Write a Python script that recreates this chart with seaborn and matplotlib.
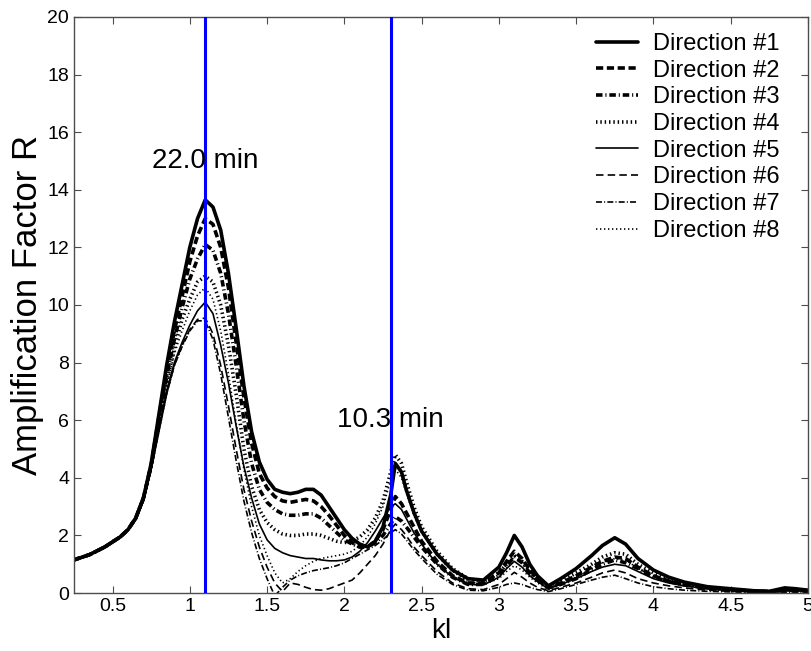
import pandas as pd
import matplotlib
matplotlib.use("Agg")
import matplotlib.pyplot as plt
import seaborn as sns

# --- Data ---
kl = [0.25, 0.35, 0.45, 0.55, 0.6, 0.65, 0.7, 0.75, 0.8, 0.85, 0.9, 0.95,
      1.0, 1.05, 1.1, 1.15, 1.2, 1.25, 1.3, 1.35, 1.4, 1.45,
      1.5, 1.55, 1.6, 1.65, 1.7, 1.75, 1.8, 1.85, 1.9, 1.95,
      2.0, 2.05, 2.1, 2.15, 2.2, 2.25, 2.3,
      2.33, 2.37, 2.4, 2.45, 2.5,
      2.6, 2.7, 2.8, 2.9, 3.0,
      3.05, 3.1, 3.15, 3.2, 3.25,
      3.32, 3.4, 3.5, 3.6, 3.67,
      3.75, 3.82, 3.9, 4.0, 4.1,
      4.2, 4.35, 4.5, 4.65, 4.75,
      4.85, 4.92, 5.0]

dir1 = [1.15, 1.33, 1.6, 1.95, 2.2, 2.6, 3.3, 4.5, 6.2, 7.9, 9.4, 10.7,
        12.0, 13.0, 13.65, 13.4, 12.6, 11.1, 9.2, 7.2, 5.6, 4.55,
        3.95, 3.6, 3.5, 3.45, 3.5, 3.6, 3.6, 3.4, 3.0, 2.6,
        2.2, 1.9, 1.7, 1.6, 1.8, 2.3, 3.4,
        4.5, 4.2, 3.6, 2.8, 2.15,
        1.35, 0.8, 0.5, 0.45, 0.9,
        1.4, 2.0, 1.6, 1.0, 0.6,
        0.25, 0.5, 0.85, 1.3, 1.65,
        1.92, 1.7, 1.2, 0.8, 0.55,
        0.38, 0.22, 0.15, 0.08, 0.06,
        0.18, 0.15, 0.1]

dir2 = [1.15, 1.33, 1.6, 1.95, 2.2, 2.6, 3.3, 4.45, 6.1, 7.7, 9.1, 10.3,
        11.5, 12.4, 13.0, 12.8, 12.0, 10.6, 8.7, 6.8, 5.2, 4.15,
        3.65, 3.35, 3.2, 3.15, 3.2, 3.25, 3.2, 3.0, 2.7, 2.35,
        2.0, 1.75, 1.6, 1.6, 1.8, 2.2, 2.9,
        3.35, 3.1, 2.8, 2.3, 1.8,
        1.1, 0.6, 0.35, 0.35, 0.7,
        1.1, 1.45, 1.2, 0.8, 0.5,
        0.2, 0.35, 0.6, 0.9, 1.1,
        1.25, 1.2, 0.9, 0.6, 0.42,
        0.3, 0.18, 0.12, 0.07, 0.05,
        0.12, 0.12, 0.08]

dir3 = [1.15, 1.33, 1.6, 1.95, 2.2, 2.6, 3.3, 4.4, 6.0, 7.5, 8.8, 9.9,
        10.9, 11.6, 12.1, 11.9, 11.1, 9.7, 7.9, 6.0, 4.5, 3.6,
        3.15, 2.9, 2.75, 2.7, 2.7, 2.75, 2.75, 2.6, 2.35, 2.1,
        1.85, 1.7, 1.6, 1.6, 1.75, 2.0, 2.4,
        2.65, 2.5, 2.3, 1.95, 1.6,
        1.0, 0.55, 0.3, 0.3, 0.6,
        0.95, 1.25, 1.05, 0.7, 0.45,
        0.18, 0.3, 0.5, 0.8, 1.0,
        1.15, 1.05, 0.85, 0.55, 0.4,
        0.28, 0.17, 0.1, 0.06, 0.05,
        0.1, 0.1, 0.07]

dir4 = [1.15, 1.33, 1.6, 1.95, 2.2, 2.6, 3.3, 4.4, 5.9, 7.3, 8.5, 9.5,
        10.2, 10.8, 11.0, 10.8, 10.0, 8.6, 6.9, 5.0, 3.7, 2.9,
        2.45, 2.2, 2.05, 2.0, 2.0, 2.05, 2.05, 2.0, 1.9, 1.8,
        1.75, 1.8, 1.95, 2.2, 2.6, 3.2, 4.2,
        4.8, 4.5, 3.9, 3.0, 2.3,
        1.45, 0.85, 0.5, 0.4, 0.7,
        1.0, 1.3, 1.1, 0.75, 0.45,
        0.2, 0.4, 0.7, 1.0, 1.25,
        1.4, 1.35, 1.0, 0.7, 0.45,
        0.32, 0.2, 0.12, 0.07, 0.05,
        0.12, 0.12, 0.08]

dir5 = [1.15, 1.33, 1.6, 1.95, 2.2, 2.55, 3.2, 4.3, 5.7, 7.0, 8.0, 8.7,
        9.3, 9.8, 10.1, 9.7, 8.6, 7.3, 5.8, 4.4, 3.3, 2.4,
        1.85, 1.55, 1.4, 1.3, 1.25, 1.2, 1.2, 1.15, 1.12, 1.12,
        1.15, 1.25, 1.45, 1.75, 2.15, 2.6, 3.0,
        3.1, 2.9, 2.6, 2.1, 1.7,
        1.0, 0.55, 0.3, 0.28, 0.55,
        0.85, 1.1, 0.9, 0.6, 0.4,
        0.15, 0.3, 0.5, 0.75, 0.9,
        1.0, 0.95, 0.75, 0.5, 0.35,
        0.25, 0.15, 0.1, 0.06, 0.04,
        0.08, 0.08, 0.06]

dir6 = [1.15, 1.33, 1.6, 1.95, 2.2, 2.55, 3.2, 4.3, 5.6, 6.9, 7.9, 8.6,
        9.15, 9.5, 9.55, 9.0, 7.9, 6.5, 5.0, 3.6, 2.5, 1.6,
        0.9, 0.35, 0.05, 0.35, 0.3, 0.2, 0.12, 0.1, 0.15, 0.25,
        0.35, 0.45, 0.7, 1.0, 1.3, 1.7, 2.2,
        2.4, 2.2, 2.0, 1.6, 1.3,
        0.75, 0.35, 0.15, 0.12, 0.3,
        0.5, 0.72, 0.55, 0.35, 0.2,
        0.08, 0.2, 0.35, 0.55, 0.7,
        0.8, 0.7, 0.5, 0.35, 0.25,
        0.18, 0.1, 0.06, 0.04, 0.03,
        0.05, 0.05, 0.04]

dir7 = [1.15, 1.33, 1.6, 1.95, 2.2, 2.55, 3.2, 4.3, 5.6, 6.9, 7.9, 8.55,
        9.1, 9.45, 9.45, 8.8, 7.6, 6.1, 4.6, 3.2, 2.1, 1.2,
        0.5, -0.1, 0.2, 0.45, 0.6, 0.7, 0.78, 0.83, 0.88, 0.95,
        1.05, 1.2, 1.35, 1.5, 1.65, 1.85, 2.1,
        2.2, 2.05, 1.85, 1.5, 1.2,
        0.65, 0.3, 0.1, 0.08, 0.2,
        0.3, 0.35, 0.3, 0.2, 0.12,
        0.05, 0.15, 0.3, 0.45, 0.55,
        0.62, 0.5, 0.35, 0.22, 0.15,
        0.1, 0.06, 0.04, 0.03, 0.02,
        0.03, 0.03, 0.02]

dir8 = [1.15, 1.33, 1.6, 1.95, 2.2, 2.55, 3.2, 4.35, 5.8, 7.15, 8.3, 9.1,
        9.8, 10.35, 10.6, 10.2, 9.1, 7.6, 5.9, 4.3, 3.0, 2.0,
        1.3, 0.7, 0.35, 0.5, 0.75, 0.95, 1.1, 1.2, 1.25, 1.3,
        1.35, 1.45, 1.65, 1.95, 2.4, 3.0, 3.9,
        4.3, 4.0, 3.5, 2.7, 2.1,
        1.3, 0.75, 0.4, 0.3, 0.5,
        0.75, 0.95, 0.8, 0.55, 0.35,
        0.12, 0.3, 0.55, 0.85, 1.05,
        1.2, 1.15, 0.85, 0.6, 0.4,
        0.28, 0.17, 0.1, 0.06, 0.04,
        0.1, 0.1, 0.06]

directions = ["Direction #%d" % i for i in range(1, 9)]
series = [dir1, dir2, dir3, dir4, dir5, dir6, dir7, dir8]
periods = [1.1, 2.3]
period_labels = ["22.0 min", "10.3 min"]
period_label_y = [15.0, 6.0]

df = pd.concat([pd.DataFrame({"kl": kl, "R": vals, "Direction": name})
                for name, vals in zip(directions, series)], ignore_index=True)

# --- Styling ---
sns.set_style("ticks")
plt.rcParams["font.family"] = ["Liberation Sans", "DejaVu Sans"]
plt.rcParams["text.color"] = "black"
plt.rcParams["axes.labelcolor"] = "black"

dash_map = {
    "Direction #1": "",
    "Direction #2": (2.0, 1.0),
    "Direction #3": (1.8, 0.8, 0.3, 0.8),
    "Direction #4": (0.4, 0.8),
    "Direction #5": "",
    "Direction #6": (4.5, 2.5),
    "Direction #7": (3.6, 1.3, 0.6, 1.3),
    "Direction #8": (0.8, 1.6),
}
size_map = {d: (2.6 if i < 4 else 1.2) for i, d in enumerate(directions)}

fig = plt.figure(figsize=(8.12, 6.51), dpi=100)
ax = fig.add_axes([0.091, 0.089, 0.904, 0.885])

sns.lineplot(data=df, x="kl", y="R", hue="Direction", style="Direction",
             size="Direction", hue_order=directions, style_order=directions,
             size_order=directions, palette=["black"] * 8, dashes=dash_map,
             sizes=size_map, errorbar=None, sort=False, ax=ax)

for xv in periods:
    ax.axvline(xv, color="#0000ff", linewidth=2.2, zorder=5)
for xv, lab, yv in zip(periods, period_labels, period_label_y):
    ax.text(xv, yv, lab, ha="center", va="center", fontsize=20, zorder=6)

ax.set_xlim(0.25, 5)
ax.set_ylim(0, 20)
ax.set_xticks([0.5, 1, 1.5, 2, 2.5, 3, 3.5, 4, 4.5, 5])
ax.set_xticklabels(["0.5", "1", "1.5", "2", "2.5", "3", "3.5", "4", "4.5", "5"])
ax.set_yticks(range(0, 21, 2))
ax.set_xlabel("kl", fontsize=20, labelpad=2)
ax.set_ylabel("Amplification Factor R", fontsize=25, labelpad=2)
ax.tick_params(direction="in", length=5, width=0.8, labelsize=14,
               top=True, right=True, color="0.3", labelcolor="black")
for sp in ax.spines.values():
    sp.set_visible(True)
    sp.set_color("0.3")
    sp.set_linewidth(1.0)

sns.move_legend(ax, "upper right", bbox_to_anchor=(0.981, 0.997), frameon=False,
                title=None, fontsize=17, handlelength=1.8, labelspacing=0.2,
                handletextpad=0.64, borderaxespad=0.2)

fig.savefig("out.png", dpi=100)
